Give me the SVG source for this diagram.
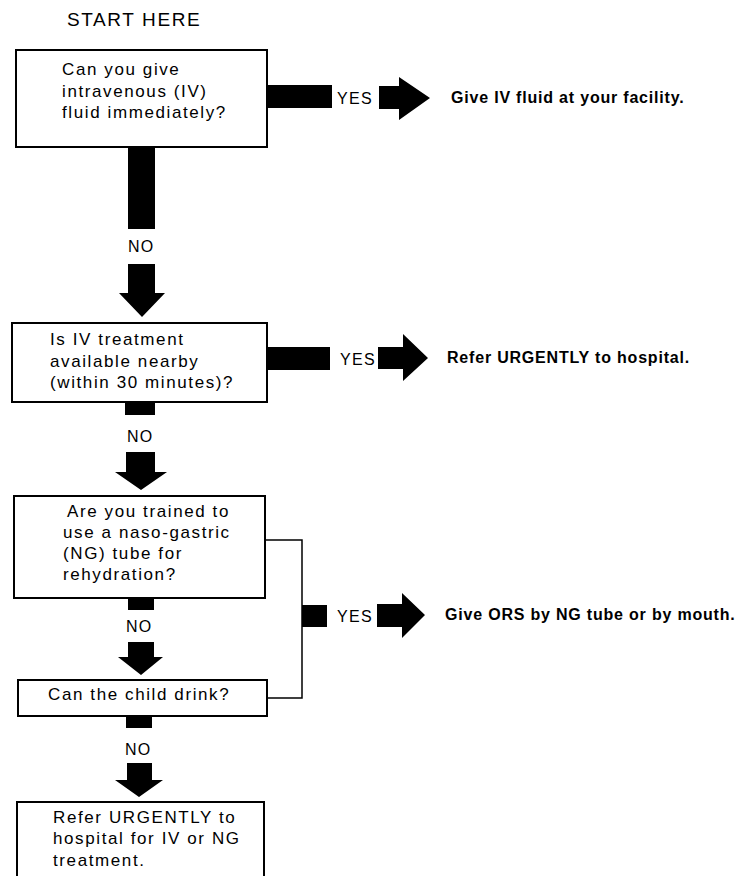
<svg xmlns="http://www.w3.org/2000/svg" width="749" height="876" viewBox="0 0 749 876">
<style>
  .box { fill: #fff; stroke: #000; stroke-width: 2; }
  .q { font-family: "Liberation Sans", Arial, sans-serif; font-size: 17px; letter-spacing: 1.6px; fill: #000; }
  .lbl { font-family: "Liberation Sans", Arial, sans-serif; font-size: 16px; letter-spacing: 1.3px; fill: #000; }
  .res { font-family: "Liberation Sans", Arial, sans-serif; font-size: 16px; font-weight: bold; letter-spacing: 0.8px; fill: #000; }
  .title { font-family: "Liberation Sans", Arial, sans-serif; font-size: 19px; letter-spacing: 1.6px; fill: #000; }
  .bar { fill: #000; }
  .wire { fill: none; stroke: #000; stroke-width: 1.5; }
</style>
<rect width="749" height="876" fill="#fff"/>
<text class="title" x="67" y="26">START HERE</text>

<g id="q1">
  <rect class="box" x="16" y="50" width="251" height="97"/>
  <text class="q" x="62" y="75">Can you give</text>
  <text class="q" x="62" y="97">intravenous (IV)</text>
  <text class="q" x="62" y="118">fluid immediately?</text>
</g>
<g id="r1">
  <text class="res" x="451" y="103">Give IV fluid at your facility.</text>
</g>

<g id="q2">
  <rect class="box" x="12" y="323" width="255" height="79"/>
  <text class="q" x="50" y="345">Is IV treatment</text>
  <text class="q" x="50" y="367">available nearby</text>
  <text class="q" x="50" y="388">(within 30 minutes)?</text>
</g>
<g id="r2">
  <text class="res" x="447" y="363">Refer URGENTLY to hospital.</text>
</g>

<g id="q3">
  <rect class="box" x="14" y="496" width="251" height="102"/>
  <text class="q" x="67" y="517">Are you trained to</text>
  <text class="q" x="63" y="538">use a naso-gastric</text>
  <text class="q" x="63" y="559">(NG) tube for</text>
  <text class="q" x="63" y="580">rehydration?</text>
</g>

<g id="q4">
  <rect class="box" x="18" y="680" width="249" height="36"/>
  <text class="q" x="48" y="700">Can the child drink?</text>
</g>
<g id="r3">
  <text class="res" x="445" y="620">Give ORS by NG tube or by mouth.</text>
</g>

<g id="r4">
  <rect class="box" x="17" y="802" width="247" height="90"/>
  <text class="q" x="53" y="823">Refer URGENTLY to</text>
  <text class="q" x="53" y="844">hospital for IV or NG</text>
  <text class="q" x="53" y="866">treatment.</text>
</g>

<g id="connectors">
  <!-- YES 1 -->
  <rect class="bar" x="267" y="85" width="65" height="23"/>
  <text class="lbl" x="337" y="104">YES</text>
  <polygon class="bar" points="379,86 399,86 399,77 430,98 399,120 399,109 379,109"/>
  <!-- NO 1 -->
  <rect class="bar" x="128" y="147" width="27" height="82"/>
  <text class="lbl" x="128" y="252">NO</text>
  <polygon class="bar" points="128,264 155,264 155,293 165,293 142,317 119,293 128,293"/>
  <!-- YES 2 -->
  <rect class="bar" x="267" y="347" width="63" height="23"/>
  <text class="lbl" x="340" y="365">YES</text>
  <polygon class="bar" points="378,347 403,347 403,334 428,358 403,381 403,369 378,369"/>
  <!-- NO 2 -->
  <rect class="bar" x="125" y="402" width="30" height="13"/>
  <text class="lbl" x="127" y="442">NO</text>
  <polygon class="bar" points="126,452 155,452 155,472 167,472 141,490 115,472 126,472"/>
  <!-- YES 3 (from q3 and q4) -->
  <polyline class="wire" points="265,540 302,540 302,698 267,698"/>
  <rect class="bar" x="302" y="605" width="25" height="22"/>
  <text class="lbl" x="337" y="622">YES</text>
  <polygon class="bar" points="377,604 402,604 402,593 425,615 402,638 402,627 377,627"/>
  <!-- NO 3 -->
  <rect class="bar" x="128" y="598" width="26" height="12"/>
  <text class="lbl" x="126" y="632">NO</text>
  <polygon class="bar" points="128,642 154,642 154,657 163,657 141,675 118,657 128,657"/>
  <!-- NO 4 -->
  <rect class="bar" x="126" y="716" width="26" height="12"/>
  <text class="lbl" x="125" y="755">NO</text>
  <polygon class="bar" points="127,763 152,763 152,780 163,780 139,797 115,780 127,780"/>
</g>
</svg>
